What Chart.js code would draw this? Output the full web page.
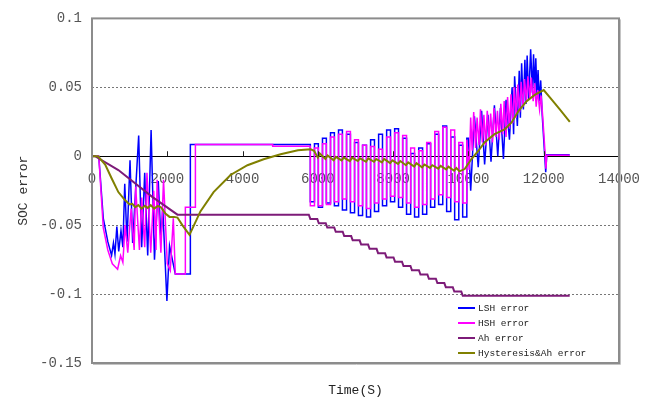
<!DOCTYPE html>
<html>
<head>
<meta charset="utf-8">
<title>SOC error</title>
<script src="https://cdn.jsdelivr.net/npm/chart.js@4.4.1/dist/chart.umd.min.js"></script>
<style>
  html, body { margin: 0; padding: 0; background: #fff; }
  canvas { display: block; }
</style>
</head>
<body>
<canvas id="socChart" width="658" height="402"></canvas>
<script>
// axis ticks
const timeTicks = [0, 2000, 4000, 6000, 8000, 10000, 12000, 14000];
const errorTicks = [-0.15, -0.1, -0.05, 0, 0.05, 0.1];

const seriesNames = ['LSH error', 'HSH error', 'Ah error', 'Hysteresis&Ah error'];

// [time s, SOC error] before the pulse section
const lshHead = [[0, 0], [180, 0], [300, -0.045], [420, -0.062], [520, -0.072], [570, -0.063],
  [610, -0.071], [660, -0.051], [710, -0.069], [770, -0.054], [820, -0.066], [870, -0.020],
  [930, -0.062], [1010, -0.003], [1080, -0.063], [1240, 0.015], [1320, -0.066], [1400, -0.012],
  [1480, -0.072], [1570, 0.019], [1660, -0.075], [1760, -0.018], [1830, -0.060], [1880, -0.038],
  [1990, -0.105], [2060, -0.065], [2213, -0.0855], [2613, -0.0855], [2613, 0.0086], [4800, 0.0086]];

const hshHead = [[0, 0], [180, 0], [300, -0.052], [420, -0.068], [540, -0.078], [680, -0.082],
  [760, -0.072], [820, -0.077], [880, -0.050], [950, -0.070], [1040, -0.038], [1120, -0.068],
  [1160, -0.022], [1260, -0.068], [1320, -0.030], [1400, -0.066], [1460, -0.012], [1560, -0.070],
  [1640, -0.025], [1700, -0.068], [1730, -0.017], [1830, -0.070], [1900, -0.017], [2000, -0.078],
  [2080, -0.083], [2160, -0.045], [2213, -0.0855], [2480, -0.0855], [2480, -0.037], [2747, -0.037],
  [2747, 0.0086], [4800, 0.0086], [4800, 0.0072]];

// discharge pulses (start / end of each pulse, s)
const pulseDown = [5800, 6013, 6226, 6439, 6652, 6865, 7078, 7291, 7504, 7717,
  7930, 8143, 8356, 8569, 8782, 8995, 9208, 9421, 9634, 9847];
const pulseUp = [5910, 6123, 6336, 6549, 6762, 6975, 7188, 7401, 7614, 7827,
  8040, 8253, 8466, 8679, 8892, 9105, 9318, 9531, 9744, 9957];

const lshLow = [-0.033, -0.037, -0.034, -0.036, -0.039, -0.041, -0.043, -0.044, -0.040, -0.036,
  -0.033, -0.037, -0.042, -0.044, -0.042, -0.037, -0.035, -0.040, -0.046, -0.044];
const lshHigh = [0.009, 0.013, 0.017, 0.019, 0.016, 0.010, 0.008, 0.012, 0.016, 0.019,
  0.020, 0.013, 0.002, 0.006, 0.009, 0.016, 0.022, 0.014, 0.008, 0.013];
const hshLow = [-0.036, -0.036, -0.035, -0.033, -0.031, -0.033, -0.036, -0.038, -0.034, -0.031,
  -0.029, -0.030, -0.034, -0.037, -0.035, -0.031, -0.028, -0.030, -0.033, -0.034];
const hshHigh = [0.006, 0.009, 0.014, 0.016, 0.018, 0.012, 0.008, 0.007, 0.005, 0.014,
  0.017, 0.015, 0.006, 0.004, 0.010, 0.018, 0.021, 0.019, 0.010, 0.012];

// after the pulse section
const lshTail = [[10000, 0.013], [10060, -0.025], [10160, 0.029], [10260, -0.008], [10350, 0.033],
  [10430, -0.006], [10520, 0.030], [10600, -0.004], [10690, 0.037], [10780, 0.000], [10850, 0.035],
  [10930, -0.002], [11000, 0.041], [11090, 0.012], [11160, 0.050], [11200, 0.016], [11227, 0.058],
  [11300, 0.022], [11350, 0.062], [11380, 0.028], [11413, 0.0675], [11460, 0.034], [11500, 0.070],
  [11530, 0.038], [11560, 0.073], [11600, 0.041], [11653, 0.0776], [11700, 0.046], [11730, 0.074],
  [11760, 0.048], [11790, 0.071], [11820, 0.044], [11850, 0.0625], [11880, 0.040], [11920, 0.055],
  [11960, 0.030], [12053, -0.0115], [12080, 0.001], [12690, 0.001]];

const hshTail = [[10020, -0.010], [10060, 0.028], [10100, 0.004], [10140, 0.032], [10190, 0.006],
  [10230, 0.028], [10280, 0.008], [10320, 0.034], [10370, 0.010], [10410, 0.030], [10460, 0.008],
  [10500, 0.033], [10550, 0.012], [10590, 0.031], [10640, 0.010], [10680, 0.035], [10730, 0.014],
  [10770, 0.033], [10820, 0.012], [10860, 0.038], [10910, 0.016], [10950, 0.040], [11000, 0.014],
  [11040, 0.043], [11090, 0.020], [11130, 0.045], [11180, 0.024], [11220, 0.050], [11270, 0.028],
  [11310, 0.052], [11360, 0.032], [11400, 0.054], [11450, 0.036], [11490, 0.056], [11540, 0.040],
  [11580, 0.058], [11630, 0.042], [11670, 0.057], [11720, 0.040], [11760, 0.053], [11800, 0.036],
  [11840, 0.048], [11890, 0.034], [11930, 0.044], [11970, 0.030], [12030, 0.005], [12060, -0.009],
  [12080, 0.0007], [12690, 0.0007]];

const ahErr = [[0, 0], [80, 0], [700, -0.010], [1600, -0.0295], [2270, -0.0424], [5760, -0.0424],
  [5800, -0.0455], [5985, -0.0455], [6025, -0.0486], [6210, -0.0486], [6250, -0.0517],
  [6435, -0.0517], [6475, -0.0548], [6660, -0.0548], [6700, -0.0579], [6885, -0.0579],
  [6925, -0.0610], [7110, -0.0610], [7150, -0.0641], [7335, -0.0641], [7375, -0.0672],
  [7560, -0.0672], [7600, -0.0703], [7785, -0.0703], [7825, -0.0734], [8010, -0.0734],
  [8050, -0.0765], [8235, -0.0765], [8275, -0.0796], [8460, -0.0796], [8500, -0.0827],
  [8685, -0.0827], [8725, -0.0858], [8910, -0.0858], [8950, -0.0889], [9135, -0.0889],
  [9175, -0.0920], [9360, -0.0920], [9400, -0.0951], [9585, -0.0951], [9625, -0.0982],
  [9810, -0.0982], [9850, -0.1013], [12690, -0.1013]];

const hystErr = [[0, 0], [160, 0], [350, -0.006], [530, -0.0165], [700, -0.026], [880, -0.032],
  [1000, -0.035], [1070, -0.0345], [1150, -0.037], [1230, -0.0355], [1320, -0.038], [1400, -0.036],
  [1480, -0.0375], [1560, -0.0355], [1650, -0.038], [1750, -0.036], [1830, -0.037], [1950, -0.0415],
  [2060, -0.044], [2180, -0.044], [2270, -0.0445], [2400, -0.050], [2590, -0.057], [2880, -0.040],
  [3230, -0.026], [3680, -0.0136], [4130, -0.0065], [4560, -0.0022], [5010, 0.0014], [5470, 0.0043],
  [5810, 0.005], [5900, 0.004], [6000, -0.001], [6050, 0.002], [6200, -0.002], [6260, 0.0005],
  [6420, -0.003], [6480, -0.0005], [6630, -0.003], [6690, -0.001], [6850, -0.0035], [6910, -0.001],
  [7060, -0.0035], [7120, -0.0015], [7280, -0.004], [7340, -0.0015], [7490, -0.004], [7550, -0.002],
  [7700, -0.0045], [7760, -0.002], [7920, -0.005], [7980, -0.003], [8130, -0.0055], [8190, -0.0035],
  [8340, -0.0065], [8400, -0.0045], [8560, -0.0075], [8620, -0.005], [8770, -0.008], [8830, -0.006],
  [8980, -0.0085], [9040, -0.0065], [9200, -0.009], [9260, -0.007], [9410, -0.0095], [9470, -0.0075],
  [9620, -0.0105], [9680, -0.0085], [9760, -0.011], [9900, -0.0093], [10080, -0.002], [10267, 0.004],
  [10427, 0.010], [10693, 0.016], [10960, 0.0195], [11147, 0.0245], [11333, 0.033], [11547, 0.040],
  [11760, 0.0445], [12000, 0.048], [12213, 0.041], [12427, 0.034], [12693, 0.025]];

const colors = ['#0000ff', '#ff00ff', '#7d1b78', '#808000'];

function toPoints(pairs) {
    return pairs.map(p => ({ x: p[0], y: p[1] }));
}

// square pulses: drop to the low level, hold, come back to the high level
function withPulses(head, low, high, tail) {
    const pts = toPoints(head);
    let prev = head[head.length - 1][1];
    pulseDown.forEach((t, i) => {
        pts.push({ x: t, y: prev }, { x: t, y: low[i] },
                 { x: pulseUp[i], y: low[i] }, { x: pulseUp[i], y: high[i] });
        prev = high[i];
    });
    return pts.concat(toPoints(tail));
}

const monoFont = '"Liberation Mono", "DejaVu Sans Mono", monospace';

// plot frame, small tick marks above the zero line, legend in the lower right
const frameAndLegend = {
    id: 'frameAndLegend',
    afterDraw(chart) {
        const { ctx, chartArea: a } = chart;
        const xz = chart.scales.xz;
        const zeroY = chart.scales.y.getPixelForValue(0);
        ctx.save();

        ctx.strokeStyle = '#222';
        ctx.lineWidth = 1;
        timeTicks.slice(1, -1).forEach(v => {
            const px = Math.round(xz.getPixelForValue(v)) + 0.5;
            ctx.beginPath();
            ctx.moveTo(px, zeroY - 5);
            ctx.lineTo(px, zeroY);
            ctx.stroke();
        });

        ctx.strokeStyle = '#8c8c8c';
        ctx.lineWidth = 2;
        ctx.strokeRect(a.left, a.top, a.right - a.left, a.bottom - a.top);
        ctx.strokeStyle = '#c4c4c4';
        ctx.lineWidth = 1;
        ctx.beginPath();
        ctx.moveTo(a.right + 1.5, a.top + 1);
        ctx.lineTo(a.right + 1.5, a.bottom + 1.5);
        ctx.lineTo(a.left + 1, a.bottom + 1.5);
        ctx.stroke();

        ctx.font = '9.5px ' + monoFont;
        ctx.textBaseline = 'middle';
        ctx.fillStyle = '#222';
        chart.data.datasets.forEach((ds, i) => {
            const y = a.bottom - 55 + i * 15;
            const x = a.right - 161;
            ctx.strokeStyle = ds.borderColor;
            ctx.lineWidth = 2;
            ctx.beginPath();
            ctx.moveTo(x, y);
            ctx.lineTo(x + 17, y);
            ctx.stroke();
            ctx.fillText(ds.label, x + 20, y + 0.5);
        });
        ctx.restore();
    }
};

new Chart(document.getElementById('socChart'), {
    type: 'line',
    data: {
        datasets: [
            { label: seriesNames[0], data: withPulses(lshHead, lshLow, lshHigh, lshTail),
              borderColor: colors[0], borderWidth: 1.5, order: 4 },
            { label: seriesNames[1], data: withPulses(hshHead, hshLow, hshHigh, hshTail),
              borderColor: colors[1], borderWidth: 1.5, order: 3 },
            { label: seriesNames[2], data: toPoints(ahErr),
              borderColor: colors[2], borderWidth: 2, order: 2 },
            { label: seriesNames[3], data: toPoints(hystErr),
              borderColor: colors[3], borderWidth: 2, order: 1 }
        ]
    },
    options: {
        responsive: false,
        animation: false,
        layout: { padding: { top: 15, right: 39, left: 0, bottom: 0 } },
        elements: {
            point: { radius: 0 },
            line: { tension: 0, fill: false }
        },
        plugins: {
            legend: { display: false },
            tooltip: { enabled: false }
        },
        scales: {
            x: {
                type: 'linear',
                position: 'bottom',
                min: 0,
                max: 14000,
                ticks: { display: false },
                grid: { display: false, drawTicks: false },
                border: { display: false },
                title: {
                    display: true,
                    text: 'Time(S)',
                    color: '#222',
                    font: { family: monoFont, size: 13 },
                    padding: { top: 0, bottom: 4 }
                },
                afterFit: s => { s.height = 39; }
            },
            xz: {
                type: 'linear',
                axis: 'x',
                position: { y: 0 },
                min: 0,
                max: 14000,
                afterBuildTicks: s => { s.ticks = timeTicks.map(v => ({ value: v })); },
                ticks: {
                    autoSkip: false,
                    maxRotation: 0,
                    padding: 15,
                    color: '#555',
                    font: { family: monoFont, size: 14 },
                    callback: v => String(v)
                },
                grid: { display: false, drawTicks: false },
                border: { display: true, color: '#000', width: 1 }
            },
            y: {
                type: 'linear',
                min: -0.15,
                max: 0.1,
                afterBuildTicks: s => { s.ticks = errorTicks.map(v => ({ value: v })); },
                ticks: {
                    padding: 10,
                    color: '#555',
                    font: { family: monoFont, size: 14 },
                    callback: v => String(Math.round(v * 100) / 100)
                },
                grid: {
                    drawTicks: false,
                    lineWidth: 1,
                    color: c => {
                        const v = c.tick ? c.tick.value : 0;
                        if (Math.abs(v) < 1e-9 || v <= -0.149 || v >= 0.099) return 'rgba(0,0,0,0)';
                        return '#777';
                    }
                },
                border: { display: false, dash: [2, 2] },
                title: {
                    display: true,
                    text: 'SOC error',
                    color: '#333',
                    font: { family: monoFont, size: 13 },
                    padding: { top: 16, bottom: 0 }
                },
                afterFit: s => { s.width = 92; }
            }
        }
    },
    plugins: [frameAndLegend]
});
</script>
</body>
</html>
